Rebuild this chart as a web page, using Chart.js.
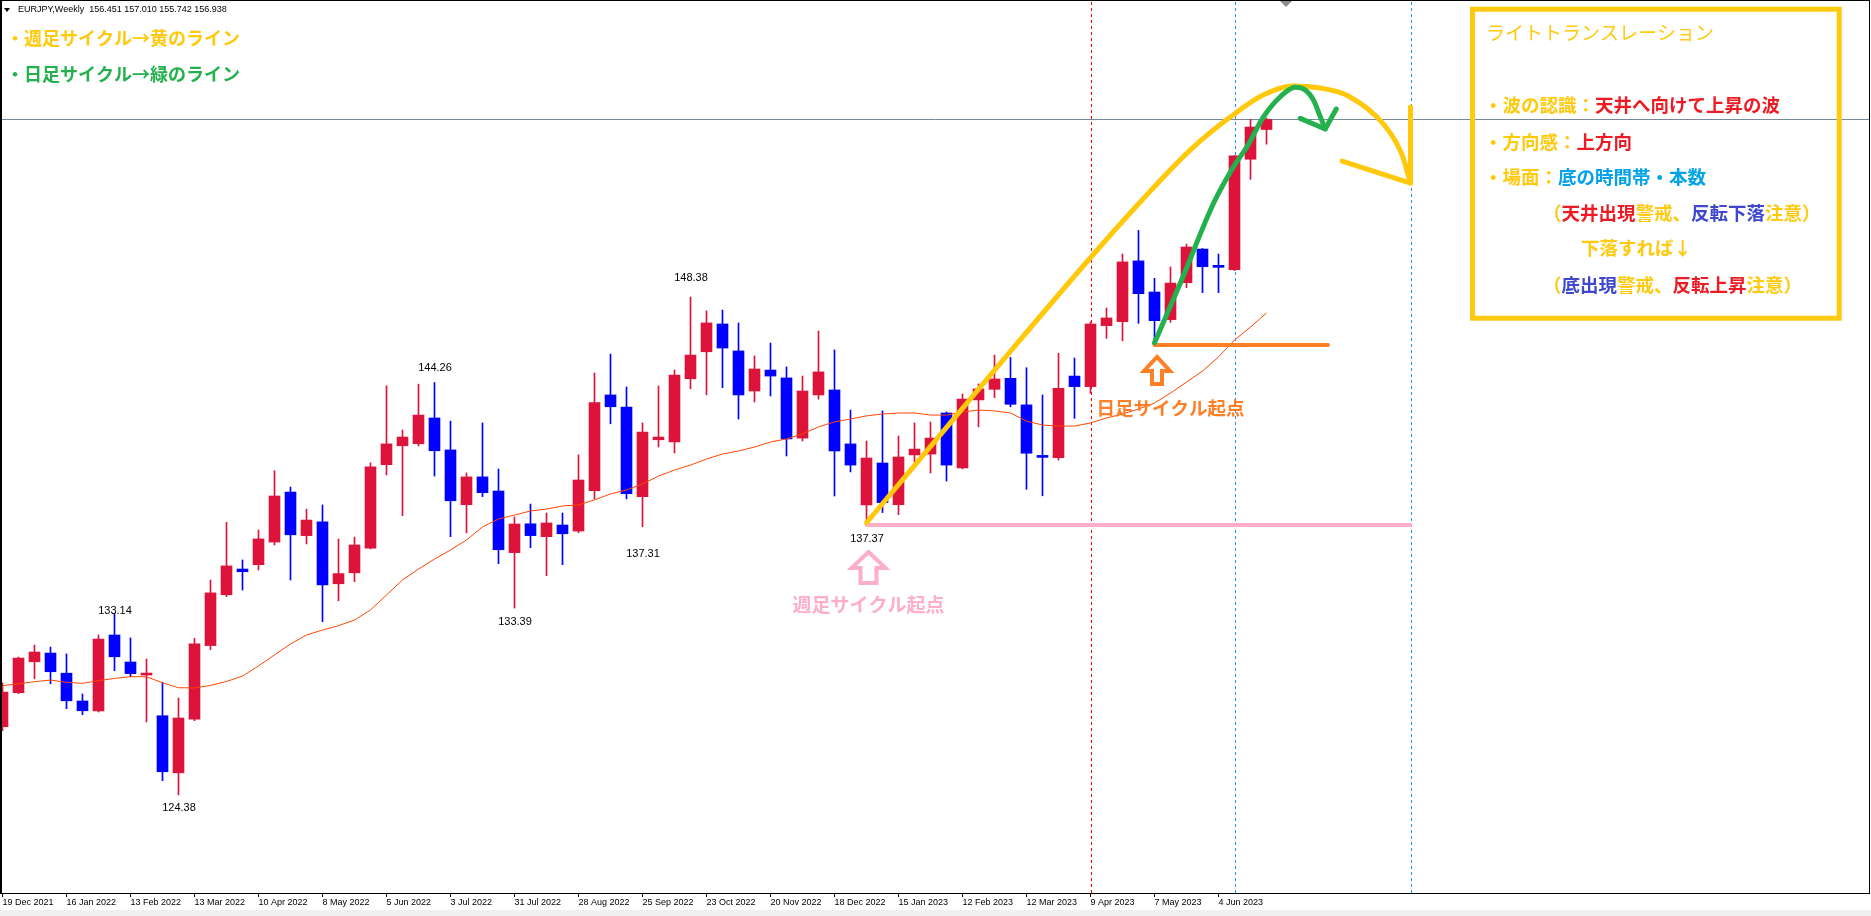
<!DOCTYPE html>
<html>
<head>
<meta charset="utf-8">
<script src="https://cdn.jsdelivr.net/npm/chart.js@4.4.1/dist/chart.umd.min.js"></script>
<style>
  html, body { margin: 0; padding: 0; background: #f0f0f0; }
  canvas { display: block; background: #fff; }
</style>
</head>
<body>
<canvas id="myChart" width="1871" height="910"></canvas>
<script>
// EURJPY 週足 (19 Dec 2021 の週から順に)
const opens  = [127.67,129.31,130.80,131.22,130.25,128.91,128.43,132.09,130.79,130.16,
                128.20,125.45,128.04,131.58,134.03,135.27,135.48,136.57,138.98,136.88,
                137.54,134.56,135.09,136.28,140.30,141.21,141.31,142.55,141.01,138.37,
                139.71,139.03,136.06,137.45,136.83,137.39,137.10,139.05,143.66,143.08,
                138.76,141.50,141.39,144.44,145.74,147.08,145.78,143.85,144.86,144.48,
                141.58,143.66,143.90,141.30,138.36,140.38,138.37,140.77,140.81,142.79,
                140.14,143.42,143.93,144.46,143.18,140.72,140.64,144.57,144.06,147.00,
                147.19,150.12,148.62,147.29,149.07,150.69,149.87,149.70,155.02,156.451];
const highs  = [129.78,131.03,131.61,131.51,131.18,129.25,132.09,133.14,131.95,130.93,
                129.81,129.05,131.93,134.74,137.52,135.71,137.15,140.01,139.22,138.16,
                138.36,136.72,136.81,140.39,144.10,141.97,144.18,144.26,142.40,139.90,
                142.31,140.09,137.78,138.40,137.97,137.97,140.77,144.72,145.63,144.04,
                142.31,144.09,144.86,148.38,147.71,147.75,147.13,145.54,146.16,145.01,
                144.57,146.74,145.83,142.93,141.44,142.89,141.68,142.31,142.36,142.84,
                143.71,144.19,145.58,145.47,144.97,143.66,145.67,145.44,147.18,147.85,
                150.45,151.59,149.28,149.83,150.93,150.72,150.45,155.20,156.95,157.010];
const lows   = [127.48,129.26,129.98,129.74,128.54,128.25,128.38,130.37,130.08,127.90,
                125.07,124.38,127.96,131.38,133.94,134.26,135.22,136.43,134.74,136.48,
                132.73,133.74,134.66,136.24,139.80,137.84,141.20,139.75,136.83,137.01,
                138.76,135.53,133.39,136.30,134.95,135.48,137.02,138.65,142.27,138.65,
                137.31,141.15,140.86,143.96,143.66,144.01,142.50,143.32,143.61,140.72,
                141.44,143.46,138.79,139.95,137.37,137.99,137.89,140.43,139.90,139.51,
                140.10,142.12,143.53,143.09,139.11,138.80,140.52,142.53,143.74,146.39,
                146.27,147.11,146.18,147.16,148.83,148.59,148.59,149.65,154.05,155.742];
const closes = [129.34,130.98,131.27,130.32,128.92,128.44,131.90,131.04,130.23,130.22,
                125.50,128.09,131.66,134.12,135.42,135.14,136.72,138.79,136.92,137.63,
                134.50,135.05,136.43,140.19,141.30,141.63,142.69,140.97,138.56,139.71,
                138.95,136.20,137.44,136.88,137.49,136.97,139.56,143.29,143.09,138.90,
                141.87,141.63,144.62,145.58,147.13,145.92,143.66,144.91,144.57,141.54,
                143.85,144.77,140.96,140.28,140.62,138.47,140.67,141.05,141.58,140.28,
                143.46,143.95,144.43,143.21,140.85,140.65,143.98,144.06,147.08,147.37,
                150.07,148.54,147.24,149.05,150.79,149.84,149.81,155.18,156.57,156.938];
// 移動平均線
const ma     = [129.65,129.74,129.84,129.92,129.81,129.76,129.89,130.00,130.08,130.08,
                129.79,129.55,129.54,129.66,129.85,130.11,130.60,131.13,131.66,132.09,
                132.33,132.54,132.81,133.30,134.02,134.74,135.27,135.75,136.19,136.67,
                137.30,137.68,137.87,138.07,138.16,138.31,138.36,138.60,138.89,139.08,
                139.37,139.75,140.04,140.28,140.57,140.81,140.96,141.15,141.39,141.54,
                141.78,142.12,142.36,142.50,142.65,142.74,142.79,142.79,142.69,142.69,
                142.84,142.93,142.89,142.79,142.40,142.21,142.16,142.16,142.31,142.55,
                142.74,142.98,143.27,143.75,144.28,144.81,145.49,146.31,146.93,147.61];
// 時間軸ラベル (4週ごと)
const tickLabels = ['19 Dec 2021','16 Jan 2022','13 Feb 2022','13 Mar 2022','10 Apr 2022',
                    '8 May 2022','5 Jun 2022','3 Jul 2022','31 Jul 2022','28 Aug 2022',
                    '25 Sep 2022','23 Oct 2022','20 Nov 2022','18 Dec 2022','15 Jan 2023',
                    '12 Feb 2023','12 Mar 2023','9 Apr 2023','7 May 2023','4 Jun 2023'];
// 高値・安値ラベル (足の番号)
const swingHighs = [7, 27, 43];
const swingLows  = [11, 32, 40, 54];
// 描画したライン (足の番号, 価格)
const weeklyPath  = [[54,137.5],[62.36,145.18],[67.98,150.26],[71.11,152.96],[74.23,155.46],
                     [76.73,157.05],[78.79,158.11],[80.67,158.55],[82.36,158.45],[84.11,158.07],
                     [86.36,156.67],[87.48,155.22],[88,153.87]];
const weeklyHead  = [[88,157.54],[88,153.87],[83.73,154.93]];
const dailyPath   = [[72,146.18],[73.61,149.04],[75.69,152.9],[76.94,154.66],[77.78,155.62],
                     [78.82,157.07],[79.86,158.03],[80.79,158.49],[81.42,158.36],[81.94,157.87],
                     [82.36,157.07],[82.67,156.48]];
const dailyHead   = [[81.11,156.99],[82.67,156.48],[83.36,157.44]];
const weeklyStart = [[54,137.39],[88,137.39]];
const dailyStart  = [[72,146.07],[82.84,146.07]];
const separators  = [[68,'#FF0000'],[77,'#1E90FF'],[88,'#1E90FF']];

const last = opens.length - 1;
const Y = '#FFC90E', R = '#ED1C24', B = '#00A2E8', P = '#3F48CC', G = '#22B14C';
const pts = a => a.map(([x, y]) => ({x, y}));
const colors = opens.map((o, i) => closes[i] >= o ? '#DC143C' : '#0000FF');

function upArrow(ctx, x, y, headW, headH, shaftW, h, color) {
    ctx.beginPath();
    ctx.moveTo(x, y);
    ctx.lineTo(x + headW / 2, y + headH);
    ctx.lineTo(x + shaftW / 2, y + headH);
    ctx.lineTo(x + shaftW / 2, y + h);
    ctx.lineTo(x - shaftW / 2, y + h);
    ctx.lineTo(x - shaftW / 2, y + headH);
    ctx.lineTo(x - headW / 2, y + headH);
    ctx.closePath();
    ctx.strokeStyle = color;
    ctx.lineWidth = 4;
    ctx.stroke();
}

function runs(ctx, x, y, parts, font) {
    ctx.font = font;
    ctx.textAlign = 'left';
    ctx.textBaseline = 'middle';
    for (const [t, c] of parts) {
        ctx.fillStyle = c;
        ctx.fillText(t, x, y);
        x += ctx.measureText(t).width;
    }
}

const overlay = {
    id: 'overlay',
    beforeDatasetsDraw(chart) {
        const {ctx, chartArea: a, scales: {x, y}} = chart;
        ctx.save();
        ctx.lineWidth = 1;
        ctx.setLineDash([3, 3]);
        separators.forEach(([i, c]) => {
            const px = Math.round(x.getPixelForValue(i)) + 0.5;
            ctx.strokeStyle = c;
            ctx.beginPath(); ctx.moveTo(px, a.top); ctx.lineTo(px, a.bottom); ctx.stroke();
        });
        ctx.setLineDash([]);
        const by = Math.round(y.getPixelForValue(closes[last])) + 0.5;
        ctx.strokeStyle = '#778899';
        ctx.beginPath(); ctx.moveTo(a.left, by); ctx.lineTo(a.right, by); ctx.stroke();
        ctx.restore();
    },
    afterDatasetsDraw(chart) {
        const {ctx, scales: {x, y}} = chart;
        ctx.save();
        // 起点の矢印と文字
        const px = x.getPixelForValue(54), py = y.getPixelForValue(weeklyStart[0][1]);
        upArrow(ctx, px + 2, py + 27, 34, 16, 16, 31, '#FFAEC9');
        ctx.font = 'bold 19px "Noto Sans CJK JP"';
        ctx.textAlign = 'center'; ctx.textBaseline = 'middle';
        ctx.fillStyle = '#FFAEC9';
        ctx.fillText('週足サイクル起点', px + 2, py + 80);
        const ox = x.getPixelForValue(72), oy = y.getPixelForValue(dailyStart[0][1]);
        upArrow(ctx, ox + 2.5, oy + 12, 26, 14, 10, 27, '#FF7F27');
        ctx.font = 'bold 18.5px "Noto Sans CJK JP"';
        ctx.fillStyle = '#FF7F27';
        ctx.fillText('日足サイクル起点', ox + 16, oy + 63);
        // 高値・安値
        ctx.font = '11px "Liberation Sans"';
        ctx.fillStyle = '#000';
        const hiOff = [-2, -15, -19], loOff = [13, 14, 27, 14];
        swingHighs.forEach((i, k) => ctx.fillText(highs[i].toFixed(2), x.getPixelForValue(i) + 0.5, y.getPixelForValue(highs[i]) + hiOff[k]));
        swingLows.forEach((i, k) => ctx.fillText(lows[i].toFixed(2), x.getPixelForValue(i) + 0.5, y.getPixelForValue(lows[i]) + loOff[k]));
        ctx.restore();
    },
    afterDraw(chart) {
        const {ctx, chartArea: a} = chart;
        ctx.save();
        ctx.fillStyle = '#000';
        ctx.fillRect(0, 0, a.right + 1, 1);
        ctx.fillRect(0, 0, 2, a.bottom + 1);
        ctx.fillRect(a.right, 0, 1, a.bottom + 1);
        // シフトマーカー
        ctx.fillStyle = '#8c8c8c';
        ctx.beginPath(); ctx.moveTo(1280, 1); ctx.lineTo(1292, 1); ctx.lineTo(1286, 7); ctx.closePath(); ctx.fill();
        // ヘッダー
        ctx.fillStyle = '#000';
        ctx.beginPath(); ctx.moveTo(4, 8); ctx.lineTo(10, 8); ctx.lineTo(7, 12); ctx.closePath(); ctx.fill();
        ctx.font = '9px "Liberation Sans"';
        ctx.textBaseline = 'middle';
        ctx.fillText('EURJPY,Weekly  ' + [opens[last], highs[last], lows[last], closes[last]].map(v => v.toFixed(3)).join(' '), 18, 10);
        // 左上の説明
        const f = 'bold 18px "Noto Sans CJK JP"';
        runs(ctx, 6, 38, [['・週足サイクル→黄のライン', Y]], f);
        runs(ctx, 6, 74, [['・日足サイクル→緑のライン', G]], f);
        // 右上の枠
        ctx.strokeStyle = Y;
        ctx.lineWidth = 5;
        ctx.strokeRect(1472.5, 9.2, 366.7, 309);
        const fb = 'bold 18.5px "Noto Sans CJK JP"';
        runs(ctx, 1486, 33, [['ライトトランスレーション', Y]], '19px "Noto Sans CJK JP"');
        runs(ctx, 1484, 105, [['・波の認識：', Y], ['天井へ向けて上昇の波', R]], fb);
        runs(ctx, 1484, 142, [['・方向感：', Y], ['上方向', R]], fb);
        runs(ctx, 1484, 177, [['・場面：', Y], ['底の時間帯・本数', B]], fb);
        runs(ctx, 1543, 213, [['（', Y], ['天井出現', R], ['警戒、', Y], ['反転下落', P], ['注意', Y], ['）', Y]], fb);
        runs(ctx, 1581, 248, [['下落すれば↓', Y]], fb);
        runs(ctx, 1543, 285, [['（', Y], ['底出現', P], ['警戒、', Y], ['反転上昇', R], ['注意', Y], ['）', Y]], fb);
        ctx.restore();
    }
};

const lineSet = (data, color, width, order, smooth) => ({
    type: 'line', data: pts(data), borderColor: color, borderWidth: width,
    pointRadius: 0, order: order, borderCapStyle: 'round', borderJoinStyle: 'round',
    cubicInterpolationMode: smooth ? 'monotone' : 'default', tension: 0
});

const config = {
    type: 'bar',
    data: {
        datasets: [
            lineSet(dailyPath, G, 5, 0, true),
            lineSet(dailyHead, G, 5, 0, false),
            lineSet(weeklyPath, '#FFC80A', 5, 1, true),
            lineSet(weeklyHead, '#FFC80A', 5, 1, false),
            lineSet(dailyStart, '#FF7F27', 4, 2, false),
            lineSet(weeklyStart, '#FFAEC9', 4, 2, false),
            {
                type: 'line', data: ma.map((v, i) => ({x: i, y: v})),
                borderColor: '#FF4500', borderWidth: 1, pointRadius: 0, order: 3
            },
            {
                data: opens.map((o, i) => ({x: i, y: [Math.min(o, closes[i]), Math.max(o, closes[i])]})),
                backgroundColor: colors, borderWidth: 0, barThickness: 11,
                minBarLength: 2, grouped: false, order: 4
            },
            {
                data: opens.map((o, i) => ({x: i, y: [lows[i], highs[i]]})),
                backgroundColor: colors, borderWidth: 0, barThickness: 1,
                grouped: false, order: 5
            }
        ]
    },
    options: {
        responsive: false,
        devicePixelRatio: 1,
        animation: false,
        events: [],
        layout: { padding: { left: 2, right: 2, top: 2, bottom: 0 } },
        plugins: { legend: { display: false }, tooltip: { enabled: false } },
        scales: {
            x: {
                type: 'linear',
                min: -0.03125,
                max: 116.65625,
                offset: false,
                afterFit: s => { s.height = 17; },
                afterBuildTicks: s => { s.ticks = tickLabels.map((_, k) => ({ value: k * 4 })); },
                ticks: {
                    autoSkip: false, maxRotation: 0, align: 'start', padding: 0,
                    color: '#000', font: { family: 'Liberation Sans', size: 9 },
                    callback: (v, k) => tickLabels[k]
                },
                grid: { offset: false, drawOnChartArea: false, drawTicks: true, tickLength: 4, color: '#000' },
                border: { display: true, color: '#000', width: 1 }
            },
            y: { display: false, min: 119.657, max: 162.597 }
        }
    },
    plugins: [overlay]
};

// チャートを作成
var myChart = new Chart(document.getElementById('myChart'), config);
</script>
</body>
</html>
